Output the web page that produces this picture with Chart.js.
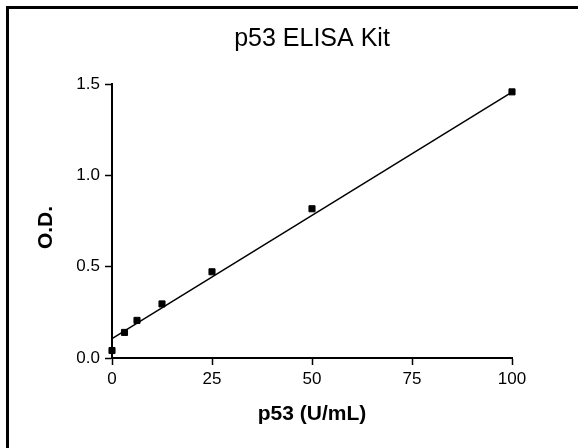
<!DOCTYPE html>
<html>
<head>
<meta charset="utf-8">
<script src="https://cdn.jsdelivr.net/npm/chart.js@4.4.0/dist/chart.umd.min.js"></script>
<style>
  html, body { margin: 0; padding: 0; background: #fff; overflow: hidden; }
  #wrap { position: relative; width: 578px; height: 448px; }
</style>
</head>
<body>
<div id="wrap"><canvas id="elisa"></canvas></div>
<script>
// standard curve readings
const concentrations = [0, 3.125, 6.25, 12.5, 25, 50, 100];
const odValues = [0.041, 0.140, 0.206, 0.296, 0.472, 0.817, 1.457];

// fitted line end points
const fitX = [0, 100];
const fitY = [0.106, 1.456];

const xTicks = [0, 25, 50, 75, 100];
const yTicks = [0.0, 0.5, 1.0, 1.5];

const FONT = 'Arial, "Liberation Sans", sans-serif';

// frame around the figure (only left/top fall inside the picture)
const framePlugin = {
  id: 'frame',
  beforeDraw(chart) {
    const ctx = chart.ctx;
    ctx.save();
    ctx.strokeStyle = '#000';
    ctx.lineWidth = 3;
    ctx.strokeRect(7.5, 7.5, 700, 700);
    ctx.restore();
  }
};

// y axis title sits a little below the axis centre in the original
const yTitlePlugin = {
  id: 'yTitle',
  afterDraw(chart) {
    const ctx = chart.ctx;
    ctx.save();
    ctx.translate(46.5, 227.5);
    ctx.rotate(-Math.PI / 2);
    ctx.font = 'bold 21px ' + FONT;
    ctx.fillStyle = '#000';
    ctx.textAlign = 'center';
    ctx.textBaseline = 'middle';
    ctx.fillText('O.D.', 0, 0);
    ctx.restore();
  }
};

const ctx = document.getElementById('elisa').getContext('2d');
new Chart(ctx, {
  type: 'scatter',
  data: {
    datasets: [{
      label: 'Standards',
      data: concentrations.map((c, i) => ({ x: c, y: odValues[i] })),
      pointStyle: 'rect',
      pointRadius: 4.3,
      pointBorderWidth: 1,
      backgroundColor: '#000',
      borderColor: '#000',
      showLine: false,
      clip: false
    }, {
      label: 'Fit',
      data: fitX.map((x, i) => ({ x: x, y: fitY[i] })),
      showLine: true,
      borderColor: '#000',
      borderWidth: 1.5,
      pointRadius: 0,
      tension: 0,
      clip: false
    }]
  },
  options: {
    responsive: true,
    maintainAspectRatio: false,
    animation: false,
    layout: {
      padding: { left: 0, right: 66, top: 0, bottom: 0 }
    },
    plugins: {
      legend: { display: false },
      tooltip: { enabled: false },
      title: {
        display: true,
        text: 'p53 ELISA Kit',
        fullSize: false,
        color: '#000',
        font: { family: FONT, size: 25, weight: 'normal' },
        padding: { top: 24, bottom: 30 }
      }
    },
    scales: {
      x: {
        type: 'linear',
        min: 0,
        max: 100,
        afterFit(scale) { scale.height = 90; },
        afterBuildTicks(scale) { scale.ticks = xTicks.map(v => ({ value: v })); },
        grid: {
          display: true,
          drawOnChartArea: false,
          drawTicks: true,
          tickLength: 7,
          tickWidth: 1.5,
          tickColor: '#000'
        },
        border: { display: true, color: '#000', width: 2 },
        ticks: {
          color: '#000',
          padding: 4,
          maxRotation: 0,
          font: { family: FONT, size: 17 },
          callback: v => String(v)
        },
        title: {
          display: true,
          text: 'p53 (U/mL)',
          color: '#000',
          font: { family: FONT, size: 21, weight: 'bold' },
          padding: { top: 0, bottom: 21 }
        }
      },
      y: {
        type: 'linear',
        min: 0,
        max: 1.5,
        afterFit(scale) { scale.width = 112; },
        afterBuildTicks(scale) { scale.ticks = yTicks.map(v => ({ value: v })); },
        grid: {
          display: true,
          drawOnChartArea: false,
          drawTicks: true,
          tickLength: 7,
          tickWidth: 1.5,
          tickColor: '#000'
        },
        border: { display: true, color: '#000', width: 2 },
        ticks: {
          color: '#000',
          padding: 5,
          font: { family: FONT, size: 17 },
          callback: v => Number(v).toFixed(1)
        }
      }
    }
  },
  plugins: [framePlugin, yTitlePlugin]
});
</script>
</body>
</html>
